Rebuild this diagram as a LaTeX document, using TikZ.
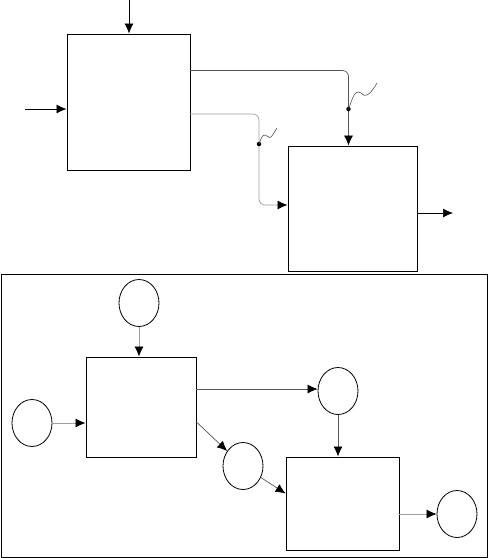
\documentclass[tikz,border=0pt]{standalone}
\usetikzlibrary{arrows.meta,shapes.geometric,calc}
\definecolor{lnDark}{HTML}{555555}
\definecolor{lnLight}{HTML}{A0A0A0}
\begin{document}
\begin{tikzpicture}[x=1pt,y=-1pt,
  box/.style={draw=black,line width=0.9pt,rectangle,inner sep=0pt},
  circ/.style={draw=black,line width=0.8pt,ellipse,inner sep=0pt,minimum width=40pt,minimum height=47pt},
  conn/.style={line width=0.7pt,-{Latex[length=10pt,width=9pt,color=black]}},
  dotmark/.style={circle,fill=black,inner sep=0pt,minimum size=4.5pt},
  sq/.style={line width=0.6pt,lnDark}]
\useasboundingbox (0,0) rectangle (488,558);
% top part
\node[box,minimum width=123pt,minimum height=136pt] (A) at (128.5,102) {};
\node[box,minimum width=129pt,minimum height=125pt] (B) at (352.5,208.5) {};
\coordinate (inTop) at (129,0);
\coordinate (inLeft) at (25,109);
\coordinate (outB) at (453,213);
\draw[conn,black] (inTop) -- (inTop |- A.north);
\draw[conn,black] (inLeft) -- (A.west |- inLeft);
\coordinate (l1a) at (190,70.5);
\coordinate (l1b) at (348.5,70.5);
\coordinate (l2a) at (190,114);
\coordinate (l2b) at (259,114);
\coordinate (l2c) at (259,205);
\draw[conn,lnDark,rounded corners=6pt] (l1a) -- (l1b) -- (l1b |- B.north);
\draw[conn,lnLight,rounded corners=6pt] (l2a) -- (l2b) -- (l2c) -- (B.west |- l2c);
\draw[conn,black] (B.east |- outB) -- (outB);
\node[dotmark] (d1) at (348.5,109) {};
\node[dotmark] (d2) at (259,144) {};
\draw[sq] (d1.center) .. controls (352,100) and (354,92) .. (358,92) .. controls (362,92) and (363,97) .. (367,95) .. controls (371,93) and (374,88) .. (377,83);
\draw[sq] (d2.center) .. controls (261,139) and (262,135) .. (265,135) .. controls (268,135) and (269,139) .. (271,137) .. controls (273,135) and (275,131) .. (277,128);
% bottom frame
\node[box,minimum width=486pt,minimum height=283pt] (F) at (244,415.5) {};
\node[box,minimum width=110pt,minimum height=100pt] (C) at (141,407) {};
\node[box,minimum width=113pt,minimum height=93pt] (D) at (342.5,503.5) {};
\node[circ] (c1) at (139,303) {};
\node[circ] (c2) at (32,423) {};
\node[circ] (c3) at (338,391) {};
\node[circ] (c4) at (243,466) {};
\node[circ] (c5) at (457,514) {};
\draw[conn,lnLight] (c1.south) -- (c1.south |- C.north);
\draw[conn,lnLight] (c2.east) -- (C.west |- c2.east);
\draw[conn,lnDark] (C.east |- 0,389) -- (c3.west |- 0,389);
\draw[conn,lnDark] ([yshift=-15pt]C.east) -- (c4);
\draw[conn,lnDark] (c4) -- ([yshift=10pt]D.west);
\draw[conn,lnDark] (c3.south) -- (c3.south |- D.north);
\draw[conn,lnLight] (D.east |- c5.west) -- (c5.west);
\end{tikzpicture}
\end{document}
